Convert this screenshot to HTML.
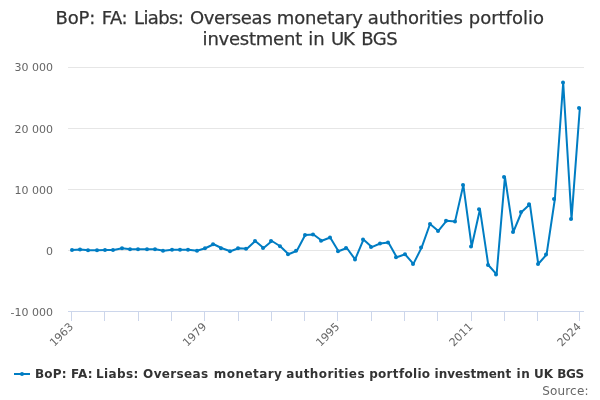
<!DOCTYPE html>
<html lang="en">
<head>
<meta charset="utf-8">
<title>BoP: FA: Liabs: Overseas monetary authorities portfolio investment in UK BGS</title>
<style>
html,body{margin:0;padding:0;background:#ffffff;}
body{width:600px;height:400px;overflow:hidden;}
svg{display:block;will-change:transform;font-family:"DejaVu Sans","Liberation Sans",sans-serif;}
</style>
</head>
<body>
<svg width="600" height="400" viewBox="0 0 600 400">
<rect x="0" y="0" width="600" height="400" fill="#ffffff"/>
<g fill="none" stroke="#e6e6e6" stroke-width="1"><path d="M 68 67.5 L 584 67.5"/><path d="M 68 128.5 L 584 128.5"/><path d="M 68 189.5 L 584 189.5"/><path d="M 68 250.5 L 584 250.5"/></g>
<path d="M 68 311.5 L 584 311.5" fill="none" stroke="#ccd6eb" stroke-width="1"/>
<g fill="none" stroke="#ccd6eb" stroke-width="1"><path d="M 71.5 311 L 71.5 321"/><path d="M 104.5 311 L 104.5 321"/><path d="M 138.5 311 L 138.5 321"/><path d="M 171.5 311 L 171.5 321"/><path d="M 204.5 311 L 204.5 321"/><path d="M 238.5 311 L 238.5 321"/><path d="M 271.5 311 L 271.5 321"/><path d="M 304.5 311 L 304.5 321"/><path d="M 337.5 311 L 337.5 321"/><path d="M 371.5 311 L 371.5 321"/><path d="M 404.5 311 L 404.5 321"/><path d="M 437.5 311 L 437.5 321"/><path d="M 471.5 311 L 471.5 321"/><path d="M 504.5 311 L 504.5 321"/><path d="M 537.5 311 L 537.5 321"/><path d="M 579.5 311 L 579.5 321"/></g>
<text y="23.8" font-size="18px" fill="#333333" stroke="#333333" stroke-width="0.25"><tspan x="55.60" textLength="39.76" lengthAdjust="spacing">BoP:</tspan> <tspan x="101.73" textLength="25.92" lengthAdjust="spacing">FA:</tspan> <tspan x="134.02" textLength="49.82" lengthAdjust="spacing">Liabs:</tspan> <tspan x="189.96" textLength="81.68" lengthAdjust="spacing">Overseas</tspan> <tspan x="276.76" textLength="86.19" lengthAdjust="spacing">monetary</tspan> <tspan x="367.82" textLength="95.09" lengthAdjust="spacing">authorities</tspan> <tspan x="468.78" textLength="75.12" lengthAdjust="spacing">portfolio</tspan></text>
<text y="44.8" font-size="18px" fill="#333333" stroke="#333333" stroke-width="0.25"><tspan x="202.60" textLength="99.61" lengthAdjust="spacing">investment</tspan> <tspan x="308.32" textLength="16.28" lengthAdjust="spacing">in</tspan> <tspan x="331.02" textLength="23.84" lengthAdjust="spacing">UK</tspan> <tspan x="361.28" textLength="36.42" lengthAdjust="spacing">BGS</tspan></text>
<path d="M 72.16 250.00 L 80.48 249.50 L 88.81 250.25 L 97.13 250.25 L 105.45 250.00 L 113.77 250.00 L 122.10 248.25 L 130.42 249.25 L 138.74 249.25 L 147.06 249.25 L 155.39 249.25 L 163.71 250.75 L 172.03 249.75 L 180.35 249.75 L 188.68 249.75 L 197.00 250.75 L 205.32 248.25 L 213.65 244.25 L 221.97 248.25 L 230.29 251.25 L 238.61 248.25 L 246.94 248.75 L 255.26 241.00 L 263.58 248.00 L 271.90 241.00 L 280.23 246.25 L 288.55 254.25 L 296.87 250.75 L 305.19 235.00 L 313.52 234.50 L 321.84 240.75 L 330.16 237.50 L 338.48 251.25 L 346.81 248.00 L 355.13 259.40 L 363.45 239.60 L 371.77 247.10 L 380.10 243.50 L 388.42 242.60 L 396.74 257.30 L 405.06 254.30 L 413.39 263.90 L 421.71 247.40 L 430.03 224.00 L 438.35 230.90 L 446.68 220.70 L 455.00 221.60 L 463.32 185.10 L 471.65 246.50 L 479.97 209.30 L 488.29 265.00 L 496.61 274.40 L 504.94 176.90 L 513.26 232.10 L 521.58 212.00 L 529.90 204.20 L 538.23 264.00 L 546.55 254.60 L 554.87 199.00 L 563.19 82.50 L 571.52 219.10 L 579.84 107.90" fill="none" stroke="#007dc3" stroke-width="2" stroke-linejoin="round" stroke-linecap="round"/>
<g fill="#007dc3"><circle cx="72" cy="250.00" r="2"/><circle cx="80" cy="249.50" r="2"/><circle cx="88" cy="250.25" r="2"/><circle cx="97" cy="250.25" r="2"/><circle cx="105" cy="250.00" r="2"/><circle cx="113" cy="250.00" r="2"/><circle cx="122" cy="248.25" r="2"/><circle cx="130" cy="249.25" r="2"/><circle cx="138" cy="249.25" r="2"/><circle cx="147" cy="249.25" r="2"/><circle cx="155" cy="249.25" r="2"/><circle cx="163" cy="250.75" r="2"/><circle cx="172" cy="249.75" r="2"/><circle cx="180" cy="249.75" r="2"/><circle cx="188" cy="249.75" r="2"/><circle cx="197" cy="250.75" r="2"/><circle cx="205" cy="248.25" r="2"/><circle cx="213" cy="244.25" r="2"/><circle cx="221" cy="248.25" r="2"/><circle cx="230" cy="251.25" r="2"/><circle cx="238" cy="248.25" r="2"/><circle cx="246" cy="248.75" r="2"/><circle cx="255" cy="241.00" r="2"/><circle cx="263" cy="248.00" r="2"/><circle cx="271" cy="241.00" r="2"/><circle cx="280" cy="246.25" r="2"/><circle cx="288" cy="254.25" r="2"/><circle cx="296" cy="250.75" r="2"/><circle cx="305" cy="235.00" r="2"/><circle cx="313" cy="234.50" r="2"/><circle cx="321" cy="240.75" r="2"/><circle cx="330" cy="237.50" r="2"/><circle cx="338" cy="251.25" r="2"/><circle cx="346" cy="248.00" r="2"/><circle cx="355" cy="259.40" r="2"/><circle cx="363" cy="239.60" r="2"/><circle cx="371" cy="247.10" r="2"/><circle cx="380" cy="243.50" r="2"/><circle cx="388" cy="242.60" r="2"/><circle cx="396" cy="257.30" r="2"/><circle cx="405" cy="254.30" r="2"/><circle cx="413" cy="263.90" r="2"/><circle cx="421" cy="247.40" r="2"/><circle cx="430" cy="224.00" r="2"/><circle cx="438" cy="230.90" r="2"/><circle cx="446" cy="220.70" r="2"/><circle cx="455" cy="221.60" r="2"/><circle cx="463" cy="185.10" r="2"/><circle cx="471" cy="246.50" r="2"/><circle cx="479" cy="209.30" r="2"/><circle cx="488" cy="265.00" r="2"/><circle cx="496" cy="274.40" r="2"/><circle cx="504" cy="176.90" r="2"/><circle cx="513" cy="232.10" r="2"/><circle cx="521" cy="212.00" r="2"/><circle cx="529" cy="204.20" r="2"/><circle cx="538" cy="264.00" r="2"/><circle cx="546" cy="254.60" r="2"/><circle cx="554" cy="199.00" r="2"/><circle cx="563" cy="82.50" r="2"/><circle cx="571" cy="219.10" r="2"/><circle cx="579" cy="107.90" r="2"/></g>
<g font-size="11px" fill="#666666"><text x="53" y="71" text-anchor="end">30 000</text><text x="53" y="133" text-anchor="end">20 000</text><text x="53" y="194" text-anchor="end">10 000</text><text x="53" y="255" text-anchor="end">0</text><text x="53" y="316" text-anchor="end">-10 000</text></g>
<g font-size="11px" fill="#666666"><text x="73.96" y="327.3" text-anchor="end" transform="rotate(-45 73.96 327.3)">1963</text><text x="207.12" y="327.3" text-anchor="end" transform="rotate(-45 207.12 327.3)">1979</text><text x="340.28" y="327.3" text-anchor="end" transform="rotate(-45 340.28 327.3)">1995</text><text x="473.45" y="327.3" text-anchor="end" transform="rotate(-45 473.45 327.3)">2011</text><text x="581.64" y="327.3" text-anchor="end" transform="rotate(-45 581.64 327.3)">2024</text></g>
<path d="M 14 374 L 30 374" fill="none" stroke="#007dc3" stroke-width="2"/>
<circle cx="22" cy="374" r="2" fill="#007dc3"/>
<text y="378" font-size="12px" font-weight="bold" fill="#333333"><tspan x="35.00" textLength="31.46" lengthAdjust="spacing">BoP:</tspan> <tspan x="70.99" textLength="21.68" lengthAdjust="spacing">FA:</tspan> <tspan x="95.97" textLength="42.44" lengthAdjust="spacing">Liabs:</tspan> <tspan x="143.12" textLength="64.96" lengthAdjust="spacing">Overseas</tspan> <tspan x="213.78" textLength="68.07" lengthAdjust="spacing">monetary</tspan> <tspan x="286.25" textLength="78.31" lengthAdjust="spacing">authorities</tspan> <tspan x="369.16" textLength="60.96" lengthAdjust="spacing">portfolio</tspan> <tspan x="434.53" textLength="76.62" lengthAdjust="spacing">investment</tspan> <tspan x="516.55" textLength="13.23" lengthAdjust="spacing">in</tspan> <tspan x="533.99" textLength="19.02" lengthAdjust="spacing">UK</tspan> <tspan x="557.21" textLength="26.99" lengthAdjust="spacing">BGS</tspan></text>
<text x="542.2" y="395" textLength="46.3" lengthAdjust="spacing" font-size="12px" fill="#666666">Source:</text>
</svg>
</body>
</html>
